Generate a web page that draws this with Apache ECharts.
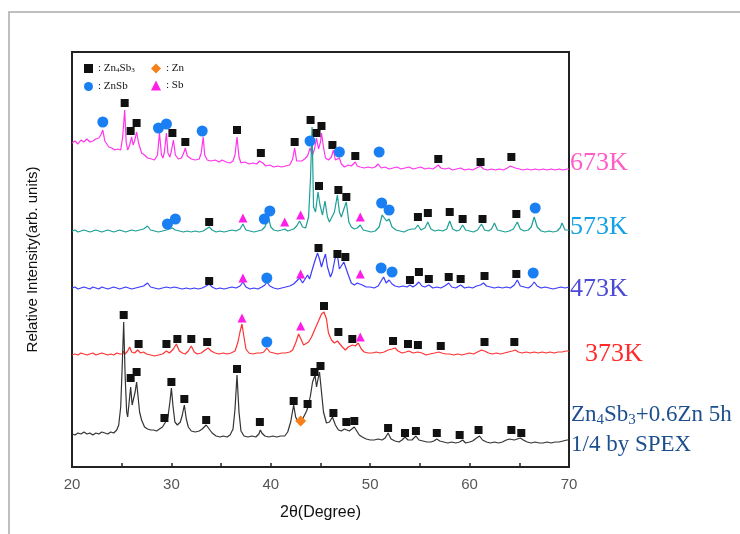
<!DOCTYPE html>
<html>
<head>
<meta charset="utf-8">
<script src="https://cdn.jsdelivr.net/npm/echarts@6/dist/echarts.min.js"></script>
<style>
  html, body { margin: 0; padding: 0; background: #fff; }
  #chart { width: 740px; height: 534px; }
</style>
</head>
<body>
<div id="chart"></div>
<script>
// XRD patterns, [2theta, intensity (arb.)], each trace already offset
const traceNames = ['673K', '573K', '473K', '373K', 'Zn4Sb3+0.6Zn 5h']

const trace673 = [
  [20.0, 324], [20.3, 326], [20.6, 323], [20.9, 327], [21.2, 325], [21.5, 328], [21.8, 325], [22.1, 326],
  [22.4, 328], [22.7, 329], [22.9, 332], [23.1, 337], [23.3, 326], [23.7, 320], [24.0, 319], [24.3, 317],
  [24.6, 318], [24.9, 317], [25.1, 330], [25.3, 357], [25.45, 325], [25.6, 317], [25.8, 322], [26.0, 330],
  [26.15, 322], [26.3, 326], [26.5, 335], [26.7, 324], [27.0, 314], [27.3, 312], [27.6, 309], [28.0, 308],
  [28.3, 307], [28.6, 312], [28.8, 334], [29.0, 312], [29.15, 309], [29.3, 315], [29.5, 334], [29.65, 314],
  [29.85, 310], [30.0, 316], [30.2, 327], [30.4, 312], [30.7, 308], [31.0, 309], [31.2, 313], [31.4, 319],
  [31.6, 311], [32.0, 308], [32.4, 307], [32.8, 308], [33.0, 314], [33.2, 330], [33.35, 312], [33.6, 307],
  [34.0, 306], [34.4, 307], [34.8, 305], [35.1, 307], [35.3, 309], [35.5, 305], [35.9, 304], [36.2, 306],
  [36.4, 312], [36.6, 330], [36.8, 310], [37.0, 304], [37.4, 305], [37.8, 303], [38.2, 304], [38.6, 303],
  [38.85, 306], [39.0, 308], [39.2, 304], [39.5, 301], [39.9, 302], [40.3, 300], [40.7, 301], [41.1, 300],
  [41.5, 301], [41.9, 302], [42.2, 308], [42.4, 319], [42.6, 306], [42.8, 304], [43.1, 306], [43.4, 308],
  [43.7, 311], [43.95, 319], [44.2, 312], [44.4, 318], [44.6, 329], [44.8, 318], [45.0, 325], [45.1, 334],
  [45.3, 320], [45.5, 309], [45.8, 307], [46.1, 310], [46.3, 317], [46.5, 307], [46.7, 305], [46.9, 309],
  [47.1, 303], [47.4, 300], [47.8, 302], [48.1, 301], [48.3, 303], [48.5, 305], [48.7, 301], [49.0, 300],
  [49.4, 299], [49.8, 300], [50.2, 299], [50.5, 300], [50.8, 303], [51.1, 299], [51.5, 300], [51.9, 298],
  [52.3, 299], [52.7, 300], [53.1, 298], [53.5, 299], [53.9, 300], [54.3, 298], [54.7, 299], [55.1, 300],
  [55.5, 298], [55.9, 299], [56.3, 298], [56.6, 300], [56.85, 302], [57.1, 299], [57.5, 298], [57.9, 299],
  [58.3, 297], [58.7, 298], [59.1, 299], [59.5, 297], [59.9, 298], [60.3, 297], [60.7, 299], [61.1, 301],
  [61.4, 298], [61.8, 297], [62.2, 298], [62.6, 297], [63.0, 298], [63.4, 297], [63.8, 299], [64.1, 301],
  [64.3, 303], [64.6, 299], [65.0, 298], [65.4, 297], [65.8, 298], [66.2, 297], [66.6, 298], [67.0, 297],
  [67.4, 298], [67.8, 297], [68.2, 298], [68.6, 297], [69.0, 298], [69.4, 297], [69.8, 298], [70.0, 298]
]

const trace573 = [
  [20.0, 236], [20.3, 237], [20.6, 235], [20.9, 236], [21.2, 237], [21.5, 236], [21.8, 235], [22.1, 236],
  [22.4, 237], [22.7, 236], [23.0, 235], [23.3, 236], [23.6, 237], [23.9, 236], [24.2, 235], [24.5, 236],
  [24.8, 237], [25.1, 236], [25.4, 235], [25.7, 236], [26.0, 237], [26.4, 236], [26.8, 237], [27.2, 238],
  [27.6, 241], [27.9, 237], [28.3, 236], [28.7, 235], [29.1, 236], [29.5, 237], [29.8, 238], [30.1, 239],
  [30.4, 237], [30.8, 236], [31.2, 235], [31.6, 236], [32.0, 235], [32.4, 236], [32.8, 235], [33.2, 236],
  [33.5, 238], [33.8, 240], [34.1, 237], [34.5, 235], [34.9, 236], [35.3, 235], [35.7, 236], [36.1, 237],
  [36.5, 236], [36.9, 238], [37.2, 243], [37.5, 237], [37.9, 236], [38.3, 235], [38.7, 236], [39.1, 237],
  [39.4, 240], [39.6, 245], [39.8, 248], [40.0, 240], [40.3, 237], [40.7, 236], [41.1, 237], [41.4, 238],
  [41.7, 236], [42.0, 237], [42.3, 238], [42.6, 241], [42.9, 246], [43.2, 240], [43.5, 239], [43.8, 250],
  [44.0, 290], [44.15, 340], [44.3, 260], [44.5, 255], [44.75, 275], [44.95, 262], [45.2, 252], [45.45, 266],
  [45.7, 250], [45.9, 245], [46.1, 244], [46.4, 255], [46.7, 272], [46.9, 255], [47.1, 250], [47.35, 258],
  [47.6, 265], [47.85, 245], [48.1, 240], [48.4, 238], [48.7, 239], [49.0, 242], [49.3, 237], [49.7, 236],
  [50.1, 235], [50.5, 236], [50.9, 240], [51.2, 252], [51.4, 250], [51.65, 246], [51.9, 248], [52.2, 240],
  [52.6, 237], [53.0, 236], [53.4, 235], [53.8, 237], [54.2, 238], [54.5, 238], [54.8, 242], [55.1, 237],
  [55.5, 239], [55.8, 245], [56.1, 238], [56.5, 236], [56.9, 237], [57.3, 236], [57.7, 238], [58.0, 246],
  [58.3, 238], [58.7, 236], [59.0, 237], [59.3, 242], [59.6, 237], [60.0, 236], [60.4, 235], [60.8, 237],
  [61.2, 243], [61.5, 237], [61.9, 236], [62.2, 238], [62.5, 244], [62.8, 237], [63.2, 236], [63.6, 235],
  [64.0, 236], [64.4, 238], [64.8, 245], [65.1, 238], [65.5, 236], [65.9, 237], [66.2, 240], [66.5, 250],
  [66.8, 240], [67.2, 236], [67.6, 235], [68.0, 236], [68.4, 235], [68.8, 236], [69.1, 239], [69.3, 244],
  [69.6, 237], [70.0, 237]
]

const trace473 = [
  [20.0, 179], [20.3, 180], [20.6, 178], [20.9, 179], [21.2, 180], [21.5, 179], [21.8, 178], [22.1, 180],
  [22.4, 179], [22.7, 178], [23.0, 180], [23.3, 179], [23.6, 178], [23.9, 179], [24.2, 180], [24.5, 179],
  [24.8, 178], [25.1, 179], [25.4, 180], [25.7, 179], [26.0, 178], [26.4, 179], [26.8, 180], [27.2, 181],
  [27.6, 184], [27.9, 180], [28.3, 179], [28.7, 178], [29.1, 179], [29.5, 180], [29.9, 179], [30.3, 180],
  [30.7, 179], [31.1, 178], [31.5, 179], [31.9, 178], [32.3, 179], [32.7, 178], [33.1, 179], [33.5, 181],
  [33.8, 183], [34.1, 180], [34.5, 178], [34.9, 179], [35.3, 178], [35.7, 179], [36.1, 180], [36.5, 179],
  [36.9, 181], [37.2, 185], [37.5, 180], [37.9, 178], [38.3, 179], [38.7, 178], [39.1, 180], [39.4, 182],
  [39.6, 185], [39.9, 181], [40.3, 179], [40.7, 178], [41.1, 179], [41.5, 180], [41.9, 181], [42.3, 183],
  [42.6, 186], [42.9, 189], [43.2, 184], [43.4, 182], [43.7, 192], [43.9, 188], [44.1, 195], [44.4, 205],
  [44.7, 214], [44.9, 208], [45.1, 200], [45.3, 207], [45.5, 213], [45.7, 200], [46.0, 190], [46.2, 195],
  [46.45, 208], [46.7, 212], [46.9, 198], [47.1, 196], [47.35, 205], [47.55, 207], [47.8, 192], [48.1, 184],
  [48.4, 182], [48.7, 184], [48.9, 186], [49.2, 182], [49.6, 180], [50.0, 180], [50.4, 179], [50.8, 181],
  [51.1, 186], [51.35, 190], [51.6, 184], [51.9, 187], [52.2, 183], [52.5, 181], [52.9, 180], [53.3, 181],
  [53.7, 180], [54.0, 182], [54.3, 180], [54.6, 182], [54.9, 185], [55.2, 181], [55.5, 180], [55.9, 182],
  [56.3, 179], [56.7, 180], [57.1, 179], [57.5, 181], [57.9, 184], [58.2, 180], [58.6, 179], [59.1, 182],
  [59.5, 179], [59.9, 180], [60.3, 179], [60.7, 181], [61.1, 182], [61.4, 184], [61.7, 181], [62.1, 180],
  [62.5, 179], [62.9, 180], [63.3, 179], [63.7, 180], [64.1, 179], [64.5, 182], [64.8, 187], [65.1, 181],
  [65.5, 180], [65.9, 179], [66.2, 181], [66.5, 185], [66.8, 181], [67.2, 179], [67.6, 180], [68.0, 179],
  [68.4, 178], [68.8, 179], [69.2, 180], [69.6, 179], [70.0, 180]
]

const trace373 = [
  [20.0, 112], [20.3, 113], [20.6, 112], [20.9, 114], [21.2, 113], [21.5, 112], [21.8, 113], [22.1, 114],
  [22.4, 112], [22.7, 113], [23.0, 114], [23.3, 113], [23.6, 112], [23.9, 113], [24.2, 112], [24.5, 114],
  [24.8, 113], [25.1, 113], [25.2, 116], [25.35, 113], [25.6, 116], [25.8, 120], [26.0, 115], [26.3, 114],
  [26.6, 117], [26.9, 114], [27.2, 115], [27.5, 113], [27.9, 112], [28.3, 111], [28.7, 112], [29.1, 113],
  [29.5, 116], [29.8, 114], [30.2, 118], [30.5, 123], [30.8, 116], [31.1, 114], [31.4, 113], [31.7, 116],
  [32.0, 121], [32.3, 115], [32.6, 113], [33.0, 114], [33.4, 117], [33.7, 119], [34.0, 116], [34.4, 114],
  [34.8, 113], [35.2, 114], [35.6, 113], [36.0, 114], [36.4, 116], [36.7, 125], [36.9, 135], [37.1, 143],
  [37.3, 130], [37.5, 118], [37.8, 114], [38.2, 113], [38.6, 114], [39.0, 114], [39.3, 115], [39.6, 119],
  [39.9, 115], [40.3, 114], [40.7, 113], [41.1, 114], [41.5, 114], [41.9, 115], [42.2, 117], [42.5, 124],
  [42.8, 133], [43.0, 131], [43.3, 122], [43.5, 120], [43.8, 125], [44.1, 130], [44.4, 137], [44.8, 146],
  [45.1, 153], [45.35, 155], [45.6, 148], [45.8, 134], [46.1, 127], [46.4, 124], [46.7, 126], [46.9, 127],
  [47.2, 120], [47.5, 117], [47.8, 120], [48.2, 122], [48.5, 121], [48.8, 124], [49.1, 118], [49.4, 115],
  [49.8, 114], [50.2, 114], [50.6, 115], [51.0, 114], [51.4, 115], [51.8, 117], [52.2, 118], [52.5, 119],
  [52.8, 116], [53.2, 114], [53.6, 115], [53.9, 116], [54.3, 114], [54.8, 115], [55.2, 114], [55.6, 112],
  [56.0, 113], [56.5, 114], [56.9, 115], [57.2, 114], [57.6, 113], [58.0, 113], [58.4, 112], [58.8, 113],
  [59.2, 112], [59.6, 113], [60.0, 114], [60.4, 113], [60.8, 115], [61.2, 117], [61.5, 116], [61.9, 114],
  [62.3, 113], [62.7, 114], [63.1, 113], [63.5, 114], [63.9, 115], [64.3, 116], [64.6, 117], [64.9, 115],
  [65.3, 114], [65.7, 115], [66.1, 114], [66.5, 115], [66.9, 114], [67.3, 115], [67.7, 114], [68.1, 115],
  [68.5, 114], [68.9, 115], [69.3, 115], [69.7, 116], [70.0, 116]
]

const traceMilled = [
  [20.0, 33], [20.3, 32], [20.6, 34], [20.9, 33], [21.2, 35], [21.5, 33], [21.8, 34], [22.1, 32],
  [22.4, 34], [22.7, 33], [23.0, 35], [23.3, 34], [23.6, 33], [23.9, 35], [24.2, 34], [24.5, 37],
  [24.7, 42], [24.9, 60], [25.05, 100], [25.2, 145], [25.35, 90], [25.5, 55], [25.6, 50], [25.75, 65],
  [25.9, 80], [26.05, 62], [26.2, 60], [26.35, 75], [26.5, 85], [26.65, 70], [26.8, 55], [27.0, 47],
  [27.3, 40], [27.6, 38], [27.9, 37], [28.2, 37], [28.5, 36], [28.8, 38], [29.1, 40], [29.35, 44],
  [29.5, 46], [29.65, 50], [29.85, 65], [30.0, 79], [30.15, 62], [30.35, 45], [30.6, 42], [30.9, 45],
  [31.1, 52], [31.3, 62], [31.5, 48], [31.7, 40], [32.0, 36], [32.4, 35], [32.8, 36], [33.1, 38],
  [33.5, 42], [33.8, 38], [34.1, 34], [34.5, 31], [34.9, 30], [35.2, 31], [35.6, 30], [35.9, 32],
  [36.2, 38], [36.4, 58], [36.6, 92], [36.8, 55], [37.0, 36], [37.3, 31], [37.7, 30], [38.1, 31],
  [38.5, 30], [38.8, 33], [38.95, 37], [39.1, 34], [39.4, 31], [39.8, 30], [40.2, 31], [40.6, 30],
  [41.0, 31], [41.4, 31], [41.7, 35], [42.0, 45], [42.3, 62], [42.5, 50], [42.7, 46], [42.9, 45],
  [43.1, 46], [43.4, 52], [43.6, 56], [43.8, 62], [44.0, 72], [44.2, 85], [44.45, 92], [44.6, 80],
  [44.75, 88], [44.9, 95], [45.1, 75], [45.3, 55], [45.6, 44], [45.9, 45], [46.2, 50], [46.5, 42],
  [46.8, 37], [47.1, 36], [47.4, 38], [47.6, 40], [47.9, 36], [48.1, 37], [48.4, 40], [48.6, 38],
  [48.9, 32], [49.2, 30], [49.6, 28], [50.0, 27], [50.4, 27], [50.8, 28], [51.2, 27], [51.5, 29],
  [51.8, 34], [52.1, 28], [52.5, 26], [52.9, 25], [53.2, 27], [53.5, 30], [53.8, 27], [54.2, 27],
  [54.6, 31], [54.9, 27], [55.3, 26], [55.7, 25], [56.1, 25], [56.4, 26], [56.7, 28], [57.0, 26],
  [57.4, 25], [57.8, 24], [58.2, 25], [58.6, 24], [59.0, 25], [59.3, 27], [59.6, 24], [60.0, 25],
  [60.3, 26], [60.7, 29], [61.0, 31], [61.3, 27], [61.7, 25], [62.1, 24], [62.5, 25], [62.9, 24],
  [63.3, 25], [63.7, 27], [64.0, 28], [64.2, 30], [64.5, 27], [64.8, 28], [65.1, 29], [65.4, 27],
  [65.8, 25], [66.2, 24], [66.6, 25], [67.0, 24], [67.4, 24], [67.8, 25], [68.2, 24], [68.6, 25],
  [69.0, 25], [69.4, 26], [69.8, 27], [70.0, 27]
]

// phase markers
const zn4sb3Marks = [
  [25.3, 364], [25.9, 336], [26.5, 344], [30.1, 334], [31.4, 325], [36.6, 337], [39.0, 314], [42.4, 325],
  [44.0, 347], [44.6, 334], [45.1, 341], [46.2, 322], [48.5, 311], [56.85, 308], [61.1, 305], [64.2, 310],
  [33.8, 245], [44.85, 281], [46.8, 277], [47.6, 270], [54.8, 250], [55.8, 254], [58.0, 255], [59.3, 248],
  [61.3, 248], [64.7, 253],
  [33.8, 186], [44.8, 219], [46.7, 213], [47.5, 210], [54.0, 187], [54.9, 195], [55.9, 188], [57.9, 190],
  [59.1, 188], [61.5, 191], [64.7, 193],
  [26.7, 123], [29.5, 123], [30.6, 128], [32.0, 128], [33.6, 125], [45.35, 161], [46.8, 135], [48.2, 128],
  [52.3, 126], [53.8, 123], [54.8, 122], [57.1, 121], [61.5, 125], [64.5, 125],
  [25.2, 152], [25.9, 89], [26.5, 95], [29.3, 49], [30.0, 85], [31.3, 68], [33.5, 47], [36.6, 98],
  [38.9, 45], [42.3, 66], [43.7, 63], [44.4, 95], [45.0, 101], [46.3, 54], [47.6, 45], [48.4, 46],
  [51.8, 39], [53.5, 34], [54.6, 36], [56.7, 34], [59.0, 32], [60.9, 37], [64.2, 37], [65.2, 34]
]
const znMarks = [[43.0, 46]]
const znsbMarks = [
  [23.1, 345], [28.7, 339], [29.5, 343], [33.1, 336], [43.95, 326], [46.9, 315], [50.9, 315],
  [29.6, 243], [30.4, 248], [39.35, 248], [39.9, 256], [51.15, 264], [51.9, 257], [66.6, 259],
  [39.6, 189], [51.1, 199], [52.2, 195], [66.4, 194],
  [39.6, 125]
]
const sbMarks = [
  [37.2, 249], [41.4, 245], [43.0, 252], [49.0, 250],
  [37.2, 189], [43.0, 193], [49.0, 193],
  [37.1, 149], [43.0, 141], [49.0, 130]
]

const xTicks = [20, 30, 40, 50, 60, 70]

const chart = echarts.init(document.getElementById('chart'))

const lineSeries = (name, data, color) => ({
  name,
  type: 'line',
  data,
  showSymbol: false,
  symbol: 'none',
  lineStyle: { color, width: 1.2 },
  itemStyle: { color },
  z: 2,
  silent: true
})

const markSeries = (name, data, symbol, size, color) => ({
  name,
  type: 'scatter',
  data,
  symbol,
  symbolSize: size,
  itemStyle: { color, opacity: 1 },
  z: 5
})

const subFmt = name => ': ' + name.replace(/(\d)/g, '{s|$1}')
const legendText = {
  fontFamily: 'Liberation Serif',
  fontSize: 11,
  color: '#111',
  rich: { s: { fontFamily: 'Liberation Serif', fontSize: 7, verticalAlign: 'bottom', padding: [4, 0, 0, 0] } }
}

chart.setOption({
  animation: false,
  backgroundColor: '#fff',
  grid: {
    left: 72, right: 171, top: 52, bottom: 67,
    show: true, borderColor: '#222', borderWidth: 2, backgroundColor: 'transparent'
  },
  legend: [
    {
      data: ['Zn4Sb3', 'ZnSb'], orient: 'vertical', left: 79, top: 58,
      itemWidth: 9, itemHeight: 9, itemGap: 7, formatter: subFmt, textStyle: legendText
    },
    {
      data: ['Zn', 'Sb'], orient: 'vertical', left: 146, top: 58,
      itemWidth: 10, itemHeight: 10, itemGap: 6, formatter: subFmt, textStyle: legendText
    }
  ],
  xAxis: {
    type: 'value', min: 20, max: 70, interval: 5,
    name: '2θ(Degree)', nameLocation: 'middle', nameGap: 38,
    nameTextStyle: { fontFamily: 'Liberation Sans', fontSize: 16, color: '#111' },
    axisLine: { lineStyle: { color: '#222', width: 2 } },
    axisTick: { inside: true, length: 4, lineStyle: { color: '#222', width: 1.5 } },
    axisLabel: {
      margin: 10, fontFamily: 'Liberation Sans', fontSize: 15, color: '#555',
      formatter: v => xTicks.includes(v) ? String(v) : ''
    },
    splitLine: { show: false }
  },
  yAxis: {
    type: 'value', min: 0, max: 415,
    name: 'Relative Intensity(arb. units)', nameLocation: 'middle', nameGap: 32,
    nameTextStyle: { fontFamily: 'Liberation Sans', fontSize: 15, color: '#111' },
    axisLine: { show: false }, axisTick: { show: false }, axisLabel: { show: false },
    splitLine: { show: false }
  },
  graphic: [
    {
      type: 'rect', shape: { x: 9, y: 12, width: 780, height: 560 }, silent: true,
      style: { fill: 'none', stroke: '#aaa', lineWidth: 1.5 }
    },
    { type: 'text', left: 570, top: 150, style: { text: traceNames[0], fill: '#ff5cc8', font: '26px "Liberation Serif"' } },
    { type: 'text', left: 570, top: 214, style: { text: traceNames[1], fill: '#12a0e8', font: '26px "Liberation Serif"' } },
    { type: 'text', left: 570, top: 276, style: { text: traceNames[2], fill: '#4a4ad6', font: '26px "Liberation Serif"' } },
    { type: 'text', left: 585, top: 341, style: { text: traceNames[3], fill: '#ff2a2a', font: '26px "Liberation Serif"' } },
    {
      type: 'text', left: 571, top: 403,
      style: {
        text: '{n|Zn}{s|4}{n|Sb}{s|3}{n|+0.6Zn 5h}',
        rich: {
          n: { fontFamily: 'Liberation Serif', fontSize: 23, fill: '#1d4f8e', color: '#1d4f8e', lineHeight: 27 },
          s: { fontFamily: 'Liberation Serif', fontSize: 15, fill: '#1d4f8e', color: '#1d4f8e', verticalAlign: 'bottom', lineHeight: 27, padding: [8, 0, 0, 0] }
        }
      }
    },
    { type: 'text', left: 571, top: 433, style: { text: '1/4 by SPEX', fill: '#1d4f8e', font: '23px "Liberation Serif"' } }
  ],
  series: [
    lineSeries(traceNames[0], trace673, '#ff33ee'),
    lineSeries(traceNames[1], trace573, '#1c9f96'),
    lineSeries(traceNames[2], trace473, '#3b3bff'),
    lineSeries(traceNames[3], trace373, '#ff3333'),
    lineSeries(traceNames[4], traceMilled, '#333333'),
    markSeries('Zn4Sb3', zn4sb3Marks, 'rect', 8, '#111111'),
    markSeries('Zn', znMarks, 'diamond', 11, '#f7801a'),
    markSeries('ZnSb', znsbMarks, 'circle', 11, '#1a7ff2'),
    markSeries('Sb', sbMarks, 'triangle', 9, '#ff1ee8')
  ]
})
</script>
</body>
</html>
